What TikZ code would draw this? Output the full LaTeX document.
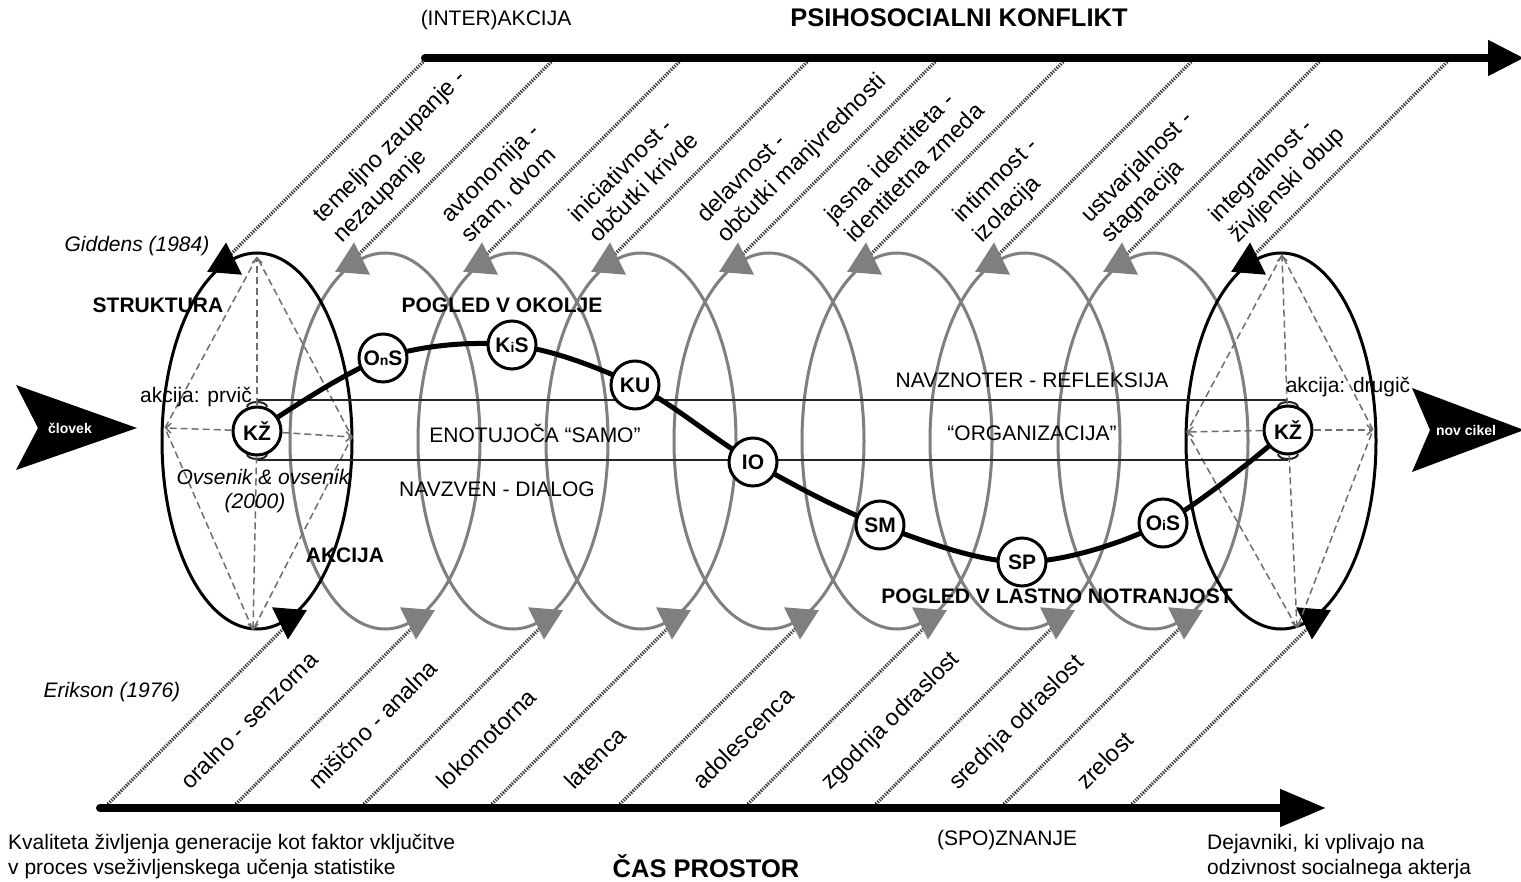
\documentclass[tikz,border=0pt]{standalone}
\usepackage{fontspec}
\setmainfont{Liberation Sans}
\usetikzlibrary{arrows.meta,calc}

\definecolor{loopgray}{HTML}{7F7F7F}
\definecolor{dashgray}{HTML}{6E6E6E}
\definecolor{hatchgray}{HTML}{3A3A3A}

\newcommand{\fsz}[2]{\fontsize{#1}{#2}\selectfont}
% filled arrowhead sitting on a loop: #1 centre x, #2 parametric angle, #3 colour
\newcommand{\loophead}[3]{%
  \fill[#3, shift={({#1+95*cos(#2)},{-441+188*sin(#2)})},
        rotate={atan2(188*cos(#2),-95*sin(#2))}]
    (30,0) -- (0,18) -- (0,-18) -- cycle;}

\begin{document}
\begin{tikzpicture}[x=1pt,y=1pt,
  axis/.style={line width=8pt, line cap=round},
  hatch/.style={draw=hatchgray, line width=3.4pt, dash pattern=on 1.3pt off 1.3pt},
  gloop/.style={draw=loopgray, line width=3pt},
  bloop/.style={draw=black, line width=3pt},
  diag/.style={draw=dashgray, line width=1.5pt, dash pattern=on 7pt off 4pt},
  spoke/.style={diag, -{Straight Barb[length=5pt,width=10pt]}},
  band/.style={draw=black!85, line width=2.5pt},
  tubecap/.style={draw=black!85, line width=2pt},
  life/.style={draw=black, line width=5pt},
  stage/.style={circle, draw, line width=3pt, fill=white, minimum size=48pt,
                inner sep=0pt, font=\fsz{21}{24}\bfseries},
  lbl/.style={inner sep=0pt, font=\fsz{21}{25}},
  ilbl/.style={inner sep=0pt, font=\fsz{21}{25}\itshape},
  blbl/.style={inner sep=0pt, font=\fsz{21}{25}\bfseries},
  head/.style={inner sep=0pt, font=\fsz{25.5}{30}\bfseries},
  rot/.style={rotate=45, anchor=base west, inner sep=0pt, font=\fsz{23.5}{28}},
  tag/.style={inner sep=0pt, text=white, font=\fsz{14}{16}\bfseries}]

\fill[white] (0,0) rectangle (1521,-882);
\useasboundingbox (0,0) rectangle (1521,-882);

% hatched strips between the two time axes
\foreach \k in {0,...,8} {
  \draw[hatch] ({425+128*\k},-60) -- ({230+128*\k},-255);
  \draw[hatch] ({106+128*\k},-806) -- ({284+128*\k},-628);
}

% main axes
\draw[axis, -{Triangle[length=36pt,width=34pt]}] (425,-58) -- (1524,-58);
\draw[axis, -{Triangle[length=46pt,width=36pt]}] (100,-808) -- (1326,-808);

% coil of loops
\foreach \k in {1,...,7} {
  \draw[gloop] ({257+128*\k},-441) ellipse[x radius=95, y radius=188];
  \loophead{257+128*\k}{104}{loopgray}
  \loophead{257+128*\k}{-76}{loopgray}
}
\foreach \k in {0,8} {
  \draw[bloop] ({257+128*\k},-441) ellipse[x radius=95, y radius=188];
  \loophead{257+128*\k}{104}{black}
  \loophead{257+128*\k}{-76}{black}
}

% structure / action diamonds
\coordinate (lT) at (257,-257);
\coordinate (lR) at (352,-437);
\coordinate (lB) at (253,-630);
\coordinate (lL) at (165,-428);
\coordinate (rT) at (1282,-255);
\coordinate (rR) at (1373,-430);
\coordinate (rB) at (1297,-628);
\coordinate (rL) at (1187,-432);
\draw[diag] (lT) -- (lL) -- (lB) -- (lR) -- cycle;
\draw[diag] (rT) -- (rL) -- (rB) -- (rR) -- cycle;

% the tube between the two actions
\draw[band] (257,-400) -- (1288,-400);
\draw[band] (257,-460) -- (1288,-460);
\foreach \cx in {257,1288} {
  \draw[tubecap] ({\cx-10},-407) arc[start angle=180, end angle=0, x radius=10, y radius=5];
  \draw[tubecap] ({\cx-10},-454) arc[start angle=180, end angle=360, x radius=10, y radius=5];
}

% life course
\coordinate (pKZa) at (257,-431);
\coordinate (pOnS) at (383,-358);
\coordinate (pKiS) at (512,-345);
\coordinate (pKU)  at (635,-385);
\coordinate (pIO)  at (753,-462);
\coordinate (pSM)  at (880,-525);
\coordinate (pSP)  at (1022,-562);
\coordinate (pOiS) at (1163,-523);
\coordinate (pKZb) at (1288,-430);
\draw[life] plot[smooth, tension=0.55] coordinates
  {(pKZa) (pOnS) (pKiS) (pKU) (pIO) (pSM) (pSP) (pOiS) (pKZb)};

\node[stage] (kza) at (pKZa) {KŽ};
\node[stage] (ons) at (pOnS) {O{\fsz{14}{14}n}S};
\node[stage] (kis) at (pKiS) {K{\fsz{14}{14}i}S};
\node[stage] (ku)  at (pKU)  {KU};
\node[stage] (io)  at (pIO)  {IO};
\node[stage] (sm)  at (pSM)  {SM};
\node[stage] (sp)  at (pSP)  {SP};
\node[stage] (ois) at (pOiS) {O{\fsz{14}{14}i}S};
\node[stage] (kzb) at (pKZb) {KŽ};

\draw[spoke] (kza) -- (lT);
\draw[spoke] (kza) -- (lB);
\draw[spoke] (kza) -- (lL);
\draw[spoke] (kza) -- (lR);
\draw[spoke] (kzb) -- (rT);
\draw[spoke] (kzb) -- (rB);
\draw[spoke] (kzb) -- (rL);
\draw[spoke] (kzb) -- (rR);

% entry and exit arrows
\fill (16,-385) -- (137,-428) -- (16,-470) -- (38,-428) -- cycle;
\node[tag] (clo) at (70,-428) {človek};
\fill (1412,-388) -- (1524,-430) -- (1412,-472) -- (1430,-430) -- cycle;
\node[tag] (nov) at (1466,-430) {nov cikel};

% psychosocial conflicts
\foreach \k/\a/\b in {0/temeljno zaupanje -/nezaupanje,
                      1/avtonomija -/{sram, dvom},
                      2/iniciativnost -/občutki krivde,
                      3/delavnost -/občutki manjvrednosti,
                      4/jasna identiteta -/identitetna zmeda,
                      5/intimnost -/izolacija,
                      6/ustvarjalnost -/stagnacija,
                      7/integralnost -/življenski obup} {
  \node[rot] (ca\k) at ({322+128*\k},-224) {\a};
  \node[rot] (cb\k) at ({342+128*\k},-244) {\b};
}
% developmental stages
\foreach \k/\a in {0/oralno - senzorna, 1/mišično - analna, 2/lokomotorna,
                   3/latenca, 4/adolescenca, 5/zgodnja odraslost,
                   6/srednja odraslost, 7/zrelost} {
  \node[rot] (st\k) at ({190+128*\k},-791) {\a};
}

% labels
\node[ilbl] (gid) at (137,-246) {Giddens (1984)};
\node[blbl] (str) at (158,-305) {STRUKTURA};
\node[lbl]  (akp) at (196,-397) {akcija: prvič};
\node[ilbl] (ovs) at (263,-477) {Ovsenik \& ovsenik};
\node[ilbl] (ovy) at (255,-503) {(2000)};
\node[blbl] (akc) at (345,-555) {AKCIJA};
\node[blbl] (pok) at (502,-305) {POGLED V OKOLJE};
\node[lbl]  (eno) at (535,-433) {ENOTUJOČA “SAMO”};
\node[lbl]  (nvz) at (497,-489) {NAVZVEN - DIALOG};
\node[lbl]  (nvn) at (1032,-380) {NAVZNOTER - REFLEKSIJA};
\node[lbl]  (org) at (1032,-433) {“ORGANIZACIJA”};
\node[blbl] (pln) at (1057,-596) {POGLED V LASTNO NOTRANJOST};
\node[lbl]  (akd) at (1348,-387) {akcija: drugič};
\node[ilbl] (eri) at (112,-692) {Erikson (1976)};
\node[lbl]  (int) at (496,-20) {(INTER)AKCIJA};
\node[head] (psi) at (959,-18) {PSIHOSOCIALNI KONFLIKT};
\node[head] (cas) at (706,-866) {ČAS PROSTOR};
\node[lbl]  (spo) at (1007,-840) {(SPO)ZNANJE};
\node[lbl, align=left, anchor=west] (kva) at (8,-857)
  {Kvaliteta življenja generacije kot faktor vključitve\\v proces vseživljenskega učenja statistike};
\node[lbl, align=left, anchor=west] (dej) at (1207,-857)
  {Dejavniki, ki vplivajo na\\odzivnost socialnega akterja};
\end{tikzpicture}
\end{document}
